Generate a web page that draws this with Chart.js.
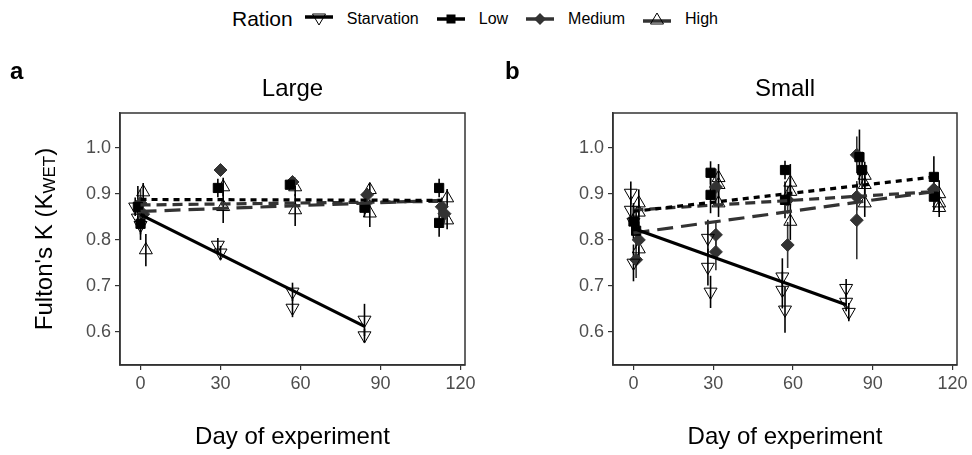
<!DOCTYPE html>
<html>
<head>
<meta charset="utf-8">
<script src="https://cdn.jsdelivr.net/npm/chart.js@4.4.1/dist/chart.umd.min.js"></script>
<style>
  body { margin: 0; background: #fff; font-family: "Liberation Sans", Arial, sans-serif; }
  #wrap { position: relative; width: 972px; height: 455px; }
  #legend { position: absolute; top: 4px; left: 232px; height: 30px; display: flex; align-items: center; color: #000; }
  #legend .ttl { font-size: 21px; margin-right: 12px; }
  #legend .key { width: 28px; height: 16px; margin-right: 14px; }
  #legend .lab { font-size: 16px; margin-right: 18px; }
  canvas { position: absolute; top: 40px; }
</style>
</head>
<body>
<div id="wrap">
  <div id="legend">
    <span class="ttl">Ration</span>
    <svg class="key" viewBox="0 0 28 16"><line x1="0" y1="6" x2="28" y2="6" stroke="#000" stroke-width="3.5"/><polygon points="7.5,3 20.5,3 14,14" fill="none" stroke="#000" stroke-width="1"/></svg>
    <span class="lab">Starvation</span>
    <svg class="key" viewBox="0 0 28 16"><line x1="0" y1="8" x2="28" y2="8" stroke="#000" stroke-width="3.5"/><rect x="9.5" y="3.5" width="9" height="9" fill="#000"/></svg>
    <span class="lab">Low</span>
    <svg class="key" viewBox="0 0 28 16"><line x1="0" y1="8" x2="28" y2="8" stroke="#333" stroke-width="3.5"/><polygon points="14,2 20,8 14,14 8,8" fill="#333"/></svg>
    <span class="lab">Medium</span>
    <svg class="key" viewBox="0 0 28 16"><line x1="0" y1="10" x2="28" y2="10" stroke="#333" stroke-width="3.5"/><polygon points="7.5,13 20.5,13 14,2" fill="none" stroke="#000" stroke-width="1"/></svg>
    <span class="lab">High</span>
  </div>
  <canvas id="chartA" width="486" height="415" style="left:0px"></canvas>
  <canvas id="chartB" width="486" height="415" style="left:486px"></canvas>
</div>
<script>
// Axis ticks
const dayTicks = [0, 30, 60, 90, 120];
const kTicks = [0.6, 0.7, 0.8, 0.9, 1.0];

// Large fish (panel a) - replicate tank means and error
const largeStarvDay = [-2, -1, 0, 29, 30, 57, 57, 84, 84];
const largeStarvK = [0.872, 0.848, 0.832, 0.789, 0.772, 0.687, 0.652, 0.626, 0.592];
const largeStarvErr = [0.02, 0.02, 0.02, 0.015, 0.015, 0.02, 0.02, 0.035, 0.015];

const largeLowDay = [-1, 0, 29, 56, 84, 112, 112];
const largeLowK = [0.872, 0.835, 0.913, 0.92, 0.87, 0.913, 0.837];
const largeLowErr = [0.045, 0.035, 0.02, 0.01, 0.02, 0.02, 0.03];

const largeMedDay = [0, 1, 30, 57, 85, 113, 114];
const largeMedK = [0.88, 0.856, 0.952, 0.926, 0.898, 0.872, 0.857];
const largeMedErr = [0.03, 0.03, 0.005, 0.01, 0.015, 0.02, 0.02];

const largeHighDay = [1, 2, 31, 31, 58, 58, 86, 86, 115, 115];
const largeHighK = [0.904, 0.778, 0.915, 0.872, 0.915, 0.865, 0.909, 0.858, 0.891, 0.843];
const largeHighErr = [0.02, 0.035, 0.02, 0.035, 0.02, 0.035, 0.015, 0.03, 0.02, 0.02];

// Large fitted lines [start, end]
const largeFitDay = [0, 113];
const largeStarvFitDay = [0, 84];
const largeStarvFit = [0.855, 0.612];
const largeLowFit = [0.888, 0.886];
const largeMedFit = [0.862, 0.886];
const largeHighFit = [0.876, 0.884];

// Small fish (panel b)
const smallStarvDay = [-1, -1, 0, 0, 28, 28, 29, 56, 56, 57, 80, 80, 81];
const smallStarvK = [0.902, 0.865, 0.839, 0.75, 0.804, 0.741, 0.687, 0.72, 0.691, 0.648, 0.695, 0.665, 0.643];
const smallStarvErr = [0.025, 0.03, 0.03, 0.04, 0.04, 0.04, 0.035, 0.04, 0.04, 0.05, 0.02, 0.02, 0.02];

const smallLowDay = [0, 1, 29, 29, 57, 57, 85, 86, 113, 113];
const smallLowK = [0.84, 0.82, 0.946, 0.898, 0.952, 0.887, 0.98, 0.952, 0.937, 0.894];
const smallLowErr = [0.04, 0.04, 0.025, 0.04, 0.02, 0.04, 0.06, 0.04, 0.045, 0.03];

const smallMedDay = [1, 2, 31, 31, 31, 58, 58, 84, 84, 84, 113];
const smallMedK = [0.757, 0.8, 0.915, 0.811, 0.774, 0.887, 0.789, 0.985, 0.894, 0.843, 0.91];
const smallMedErr = [0.04, 0.04, 0.04, 0.03, 0.04, 0.03, 0.05, 0.04, 0.03, 0.085, 0.03];

const smallHighDay = [2, 2, 2, 32, 32, 32, 59, 59, 59, 87, 87, 87, 115, 115, 115];
const smallHighK = [0.88, 0.86, 0.78, 0.935, 0.92, 0.88, 0.925, 0.905, 0.84, 0.94, 0.92, 0.88, 0.9, 0.88, 0.87];
const smallHighErr = [0.03, 0.03, 0.03, 0.03, 0.03, 0.03, 0.04, 0.03, 0.04, 0.03, 0.03, 0.03, 0.03, 0.02, 0.02];

const smallFitDay = [0, 113];
const smallStarvFitDay = [0, 80];
const smallStarvFit = [0.825, 0.659];
const smallLowFit = [0.862, 0.937];
const smallMedFit = [0.815, 0.905];
const smallHighFit = [0.865, 0.905];

const fontFamily = '"Liberation Sans", Arial, sans-serif';

function pts(xs, ys) {
  return xs.map((x, i) => ({ x: x, y: ys[i] }));
}

// vertical error bars, drawn under the points
const errorBars = {
  id: 'errorBars',
  beforeDatasetsDraw(chart) {
    const ctx = chart.ctx;
    const xs = chart.scales.x, ys = chart.scales.y;
    ctx.save();
    chart.data.datasets.forEach(ds => {
      if (!ds.errors) return;
      ctx.strokeStyle = ds.errColor || '#000';
      ctx.lineWidth = 1.6;
      ds.data.forEach((p, i) => {
        const px = xs.getPixelForValue(p.x);
        ctx.beginPath();
        ctx.moveTo(px, ys.getPixelForValue(p.y - ds.errors[i]));
        ctx.lineTo(px, ys.getPixelForValue(p.y + ds.errors[i]));
        ctx.stroke();
      });
    });
    ctx.restore();
  }
};

// panel box, panel title, tag letter, y title with subscript
const decor = {
  id: 'decor',
  afterDraw(chart, args, opts) {
    const ctx = chart.ctx;
    const a = chart.chartArea;
    ctx.save();
    ctx.strokeStyle = '#333';
    ctx.lineWidth = 1.5;
    ctx.strokeRect(a.left, a.top, a.right - a.left, a.bottom - a.top);

    ctx.fillStyle = '#000';
    ctx.textBaseline = 'middle';
    ctx.textAlign = 'center';
    ctx.font = '24px ' + fontFamily;
    ctx.fillText(opts.title, (a.left + a.right) / 2, 49);

    ctx.textAlign = 'left';
    ctx.font = 'bold 24px ' + fontFamily;
    ctx.fillText(opts.tag, opts.tagX, 32);

    // y axis title (left panel only)
    if (opts.yTitle) {
      ctx.translate(opts.yTitleX, (a.top + a.bottom) / 2);
      ctx.rotate(-Math.PI / 2);
      const main = "Fulton's K (K", sub = 'WET', close = ')';
      ctx.font = '24px ' + fontFamily;
      const w1 = ctx.measureText(main).width, w3 = ctx.measureText(close).width;
      ctx.font = '17px ' + fontFamily;
      const w2 = ctx.measureText(sub).width;
      let x = -(w1 + w2 + w3) / 2;
      ctx.font = '24px ' + fontFamily;
      ctx.fillText(main, x, 0);
      ctx.font = '17px ' + fontFamily;
      ctx.fillText(sub, x + w1, 5);
      ctx.font = '24px ' + fontFamily;
      ctx.fillText(close, x + w1 + w2, 0);
    }
    ctx.restore();
  }
};

function scatterSet(label, xs, ys, errs, style) {
  return Object.assign({
    type: 'scatter',
    label: label,
    data: pts(xs, ys),
    errors: errs,
    pointBorderWidth: 1
  }, style);
}

function fitSet(label, xs, ys, color, dash) {
  return {
    type: 'line',
    label: label,
    data: pts(xs, ys),
    borderColor: color,
    borderWidth: 3.2,
    borderDash: dash,
    pointRadius: 0,
    fill: false
  };
}

const starvStyle = { pointStyle: 'triangle', pointRotation: 180, pointRadius: 7.5, backgroundColor: 'rgba(0,0,0,0)', borderColor: '#000', errColor: '#000' };
const lowStyle = { pointStyle: 'rect', pointRadius: 6.5, backgroundColor: '#000', borderColor: '#000', errColor: '#000' };
const medStyle = { pointStyle: 'rectRot', pointRadius: 6.5, backgroundColor: '#333', borderColor: '#333', errColor: '#333' };
const highStyle = { pointStyle: 'triangle', pointRadius: 7.5, backgroundColor: 'rgba(0,0,0,0)', borderColor: '#000', errColor: '#000' };

function makeChart(id, datasets, o) {
  return new Chart(document.getElementById(id), {
    data: { datasets: datasets },
    options: {
      responsive: false,
      animation: false,
      devicePixelRatio: 1,
      layout: { padding: { left: 0, right: o.padRight, top: 73, bottom: 0 } },
      plugins: {
        legend: { display: false },
        tooltip: { enabled: false },
        decor: { title: o.title, tag: o.tag, tagX: o.tagX, yTitle: o.yTitle, yTitleX: 45 }
      },
      scales: {
        x: {
          type: 'linear',
          min: -7.7, max: 121.7,
          afterBuildTicks: s => { s.ticks = dayTicks.map(v => ({ value: v })); },
          afterFit: s => { s.height = 90; },
          grid: { drawOnChartArea: false, drawTicks: true, tickLength: 5, color: '#333', lineWidth: 1.2 },
          border: { display: true, color: '#333', width: 1.5 },
          ticks: { color: '#4d4d4d', font: { family: fontFamily, size: 18 }, padding: 3 },
          title: { display: true, text: 'Day of experiment', color: '#000', font: { family: fontFamily, size: 24 }, padding: { top: 0, bottom: 3 } }
        },
        y: {
          type: 'linear',
          min: 0.528, max: 1.076,
          afterBuildTicks: s => { s.ticks = kTicks.map(v => ({ value: v })); },
          afterFit: s => { s.width = o.yWidth; },
          grid: { drawOnChartArea: false, drawTicks: true, tickLength: 5, color: '#333', lineWidth: 1.2 },
          border: { display: true, color: '#333', width: 1.5 },
          ticks: { color: '#4d4d4d', font: { family: fontFamily, size: 18 }, padding: 4, callback: v => v.toFixed(1) }
        }
      }
    },
    plugins: [errorBars, decor]
  });
}

makeChart('chartA', [
  fitSet('Starvation fit', largeStarvFitDay, largeStarvFit, '#000', []),
  fitSet('Low fit', largeFitDay, largeLowFit, '#000', [6, 5]),
  fitSet('Medium fit', largeFitDay, largeMedFit, '#333', [16, 8]),
  fitSet('High fit', largeFitDay, largeHighFit, '#333', [10, 6]),
  scatterSet('Starvation', largeStarvDay, largeStarvK, largeStarvErr, starvStyle),
  scatterSet('Low', largeLowDay, largeLowK, largeLowErr, lowStyle),
  scatterSet('Medium', largeMedDay, largeMedK, largeMedErr, medStyle),
  scatterSet('High', largeHighDay, largeHighK, largeHighErr, highStyle)
], { title: 'Large', tag: 'a', tagX: 10, yTitle: true, yWidth: 120, padRight: 21 });

makeChart('chartB', [
  fitSet('Starvation fit', smallStarvFitDay, smallStarvFit, '#000', []),
  fitSet('Low fit', smallFitDay, smallLowFit, '#000', [6, 5]),
  fitSet('Medium fit', smallFitDay, smallMedFit, '#333', [16, 8]),
  fitSet('High fit', smallFitDay, smallHighFit, '#333', [10, 6]),
  scatterSet('Starvation', smallStarvDay, smallStarvK, smallStarvErr, starvStyle),
  scatterSet('Low', smallLowDay, smallLowK, smallLowErr, lowStyle),
  scatterSet('Medium', smallMedDay, smallMedK, smallMedErr, medStyle),
  scatterSet('High', smallHighDay, smallHighK, smallHighErr, highStyle)
], { title: 'Small', tag: 'b', tagX: 19, yTitle: false, yWidth: 127, padRight: 15 });
</script>
</body>
</html>
